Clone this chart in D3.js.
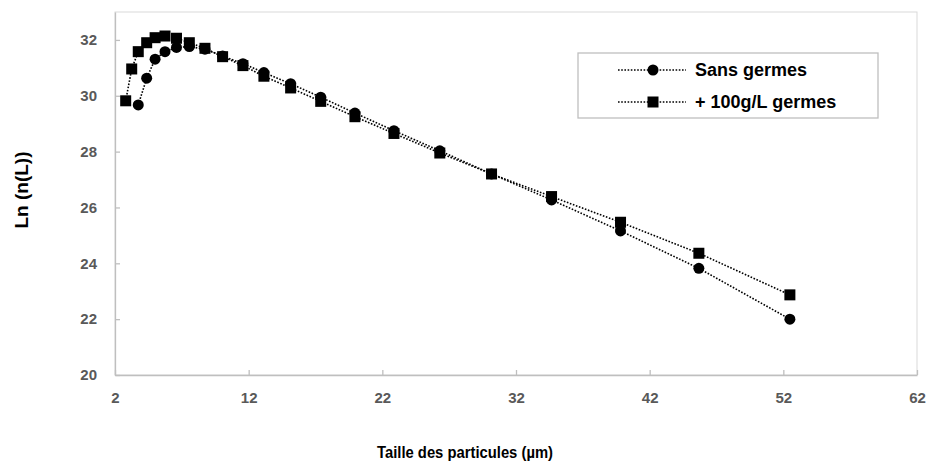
<!DOCTYPE html>
<html>
<head>
<meta charset="utf-8">
<script src="https://cdn.jsdelivr.net/npm/d3@7"></script>
<style>
  html, body { margin: 0; padding: 0; background: #fff; }
  svg { display: block; font-family: "Liberation Sans", Arial, sans-serif; }
</style>
</head>
<body>
<svg id="chart" width="928" height="468"></svg>
<script>
// Particle size bins (µm)
const sizes = [2.80, 3.25, 3.74, 4.37, 5.00, 5.74, 6.60, 7.56, 8.73, 10.05, 11.57,
               13.14, 15.14, 17.39, 19.95, 22.87, 26.30, 30.17, 34.66, 39.82, 45.68, 52.49];
// Ln(n(L)) "+ 100g/L germes" (squares)
const avecGermes = [29.82, 30.96, 31.58, 31.90, 32.08, 32.14, 32.06, 31.90, 31.70, 31.40, 31.08,
                    30.70, 30.28, 29.80, 29.25, 28.65, 27.95, 27.20, 26.39, 25.47, 24.36, 22.87];
// Ln(n(L)) "Sans germes" (circles) — starts at the third bin
const sansGermes = [null, null, 29.67, 30.63, 31.31, 31.58, 31.73, 31.76, 31.67, 31.42, 31.15,
                    30.83, 30.43, 29.95, 29.38, 28.75, 28.03, 27.20, 26.27, 25.16, 23.82, 22.00];
const xTicks = [2, 12, 22, 32, 42, 52, 62];
const yTicks = [20, 22, 24, 26, 28, 30, 32];
const seriesNames = ["Sans germes", "+ 100g/L germes"];

(function () {
const svg = d3.select("#chart");
const pL = 115, pR = 917, pT = 12, pB = 375;
const x = d3.scaleLinear().domain([2, 62]).range([pL, pR]);
const y = d3.scaleLinear().domain([20, 33]).range([pB, pT]);

const gridCol = "#bfbfbf", labelCol = "#595959";

// plot area border
svg.append("rect").attr("x", pL).attr("y", pT)
  .attr("width", pR - pL).attr("height", pB - pT)
  .attr("fill", "none").attr("stroke", "#d9d9d9").attr("stroke-width", 1);

// axes
const xAxis = svg.append("g").attr("transform", `translate(0,${pB})`)
  .call(d3.axisBottom(x).tickValues(xTicks).tickSizeInner(-5).tickSizeOuter(0).tickPadding(17));
const yAxis = svg.append("g").attr("transform", `translate(${pL},0)`)
  .call(d3.axisLeft(y).tickValues(yTicks).tickSizeInner(-5).tickSizeOuter(0).tickPadding(18));
[xAxis, yAxis].forEach(g => {
  g.select(".domain").attr("stroke", gridCol).attr("stroke-width", 1.3);
  g.selectAll(".tick line").attr("stroke", gridCol).attr("stroke-width", 1.3);
  g.selectAll(".tick text").attr("fill", labelCol).attr("font-size", 15)
    .attr("font-weight", "bold").attr("font-family", "Liberation Sans, Arial, sans-serif");
});

// lines
const dataSq = sizes.map((s, i) => ({x: s, y: avecGermes[i]}));
const dataCi = sizes.map((s, i) => ({x: s, y: sansGermes[i]})).filter(d => d.y != null);
const line = d3.line().x(d => x(d.x)).y(d => y(d.y));

[dataCi, dataSq].forEach(d => {
  svg.append("path").datum(d).attr("d", line)
    .attr("fill", "none").attr("stroke", "#000").attr("stroke-width", 1.6)
    .attr("stroke-dasharray", "1.6,1.6");
});

// markers
svg.append("g").selectAll("rect").data(dataSq).join("rect")
  .attr("x", d => x(d.x) - 5.5).attr("y", d => y(d.y) - 5.5)
  .attr("width", 11).attr("height", 11).attr("fill", "#000");
svg.append("g").selectAll("circle").data(dataCi).join("circle")
  .attr("cx", d => x(d.x)).attr("cy", d => y(d.y)).attr("r", 5.5).attr("fill", "#000");

// legend
const lg = svg.append("g");
lg.append("rect").attr("x", 578).attr("y", 53).attr("width", 300).attr("height", 65)
  .attr("fill", "#fff").attr("stroke", "#bfbfbf").attr("stroke-width", 1.3);
const rows = [70, 102];
seriesNames.forEach((name, i) => {
  const yy = rows[i];
  lg.append("line").attr("x1", 618).attr("x2", 686).attr("y1", yy).attr("y2", yy)
    .attr("stroke", "#000").attr("stroke-width", 1.6).attr("stroke-dasharray", "1.6,1.6");
  if (i === 0) {
    lg.append("circle").attr("cx", 653).attr("cy", yy).attr("r", 5.5).attr("fill", "#000");
  } else {
    lg.append("rect").attr("x", 647.5).attr("y", yy - 5.5).attr("width", 11).attr("height", 11).attr("fill", "#000");
  }
  lg.append("text").attr("x", 695).attr("y", yy).attr("dy", "0.35em")
    .attr("font-size", 18).attr("font-weight", "bold").attr("fill", "#000").text(name);
});

// axis titles
svg.append("text").attr("x", 465).attr("y", 458).attr("text-anchor", "middle")
  .attr("font-size", 17).attr("font-weight", "bold").attr("fill", "#000")
  .attr("textLength", 176).attr("lengthAdjust", "spacingAndGlyphs")
  .text("Taille des particules (µm)");
svg.append("text").attr("transform", "translate(28,190) rotate(-90)").attr("text-anchor", "middle")
  .attr("font-size", 19).attr("font-weight", "bold").attr("fill", "#000")
  .text("Ln (n(L))");
})();
</script>
</body>
</html>
